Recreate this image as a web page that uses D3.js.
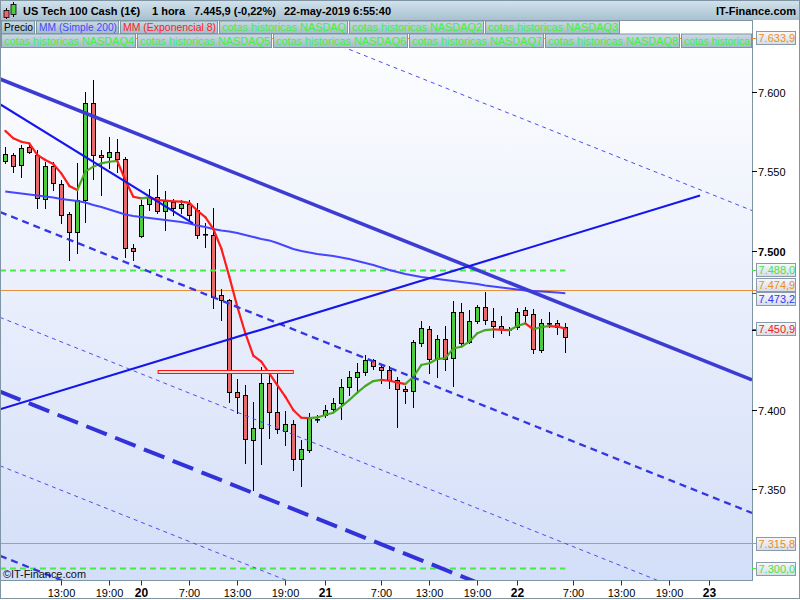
<!DOCTYPE html>
<html><head><meta charset="utf-8">
<script src="https://cdn.jsdelivr.net/npm/d3@7/dist/d3.min.js"></script>
<style>
html,body{margin:0;padding:0;background:#fff;}
svg{display:block;font-family:"Liberation Sans",Arial,sans-serif;}
</style></head><body>
<svg id="chart" width="800" height="600"></svg>
<script>
// ---------- DATA ----------
const opens=[7556.2,7560.0,7553.7,7565.0,7560.0,7532.5,7553.1,7541.7,7523.0,7511.9,
7531.7,7592.7,7560.0,7558.7,7562.1,7557.5,7501.4,7509.4,7529.1,7533.9,
7524.9,7530.8,7526.6,7529.1,7525.6,7510.3,7509.8,7472.1,7468.9,7410.8,
7409.1,7380.8,7388.2,7416.5,7398.2,7386.7,7390.7,7368.7,7374.5,7393.8,
7396.5,7400.1,7403.9,7414.0,7420.3,7423.4,7431.0,7426.6,7424.9,7418.6,
7412.9,7411.6,7441.7,7450.5,7432.0,7444.2,7432.2,7461.2,7442.3,7455.5,
7464.3,7455.5,7452.4,7450.5,7452.1,7462.4,7459.9,7437.4,7454.3,7454.2,
7452.1];
const highs=[7565.4,7561.6,7566.5,7567.9,7563.3,7555.9,7555.9,7544.4,7524.5,7554.9,
7599.6,7607.4,7563.3,7571.7,7570.0,7559.1,7504.2,7531.8,7538.6,7547.6,
7537.7,7532.5,7531.8,7531.8,7529.8,7517.2,7526.6,7475.8,7469.5,7419.0,
7415.4,7404.5,7426.6,7423.2,7424.2,7399.2,7393.4,7380.8,7397.6,7396.5,
7402.8,7407.0,7419.0,7424.4,7429.5,7434.3,7431.6,7428.0,7427.4,7420.3,
7414.8,7443.7,7455.7,7452.5,7446.9,7452.5,7468.3,7466.8,7462.6,7465.8,
7474.1,7463.7,7458.8,7452.1,7463.7,7464.3,7463.1,7456.8,7461.2,7456.3,
7454.2];
const lows=[7554.9,7549.7,7546.1,7561.2,7526.6,7526.6,7538.1,7517.2,7494.1,7498.3,
7518.2,7544.9,7535.0,7551.8,7549.5,7496.2,7494.1,7508.7,7525.6,7523.5,
7513.0,7522.4,7523.9,7519.3,7507.7,7502.0,7464.1,7456.3,7404.9,7397.6,
7366.5,7349.3,7365.5,7381.9,7385.0,7377.7,7361.9,7351.9,7373.4,7392.3,
7395.5,7399.1,7393.8,7409.1,7410.6,7421.7,7425.3,7416.5,7413.3,7388.8,
7403.9,7401.4,7440.2,7423.2,7420.6,7424.9,7415.0,7439.5,7441.7,7454.2,
7453.8,7445.4,7448.0,7446.9,7450.5,7454.2,7435.4,7436.4,7452.1,7447.5,
7436.4];
const closes=[7560.8,7553.1,7564.4,7561.9,7532.9,7553.1,7542.4,7522.4,7511.9,7531.7,
7592.7,7560.0,7558.7,7562.1,7557.5,7501.4,7499.6,7529.0,7533.9,7524.6,
7531.2,7526.6,7529.1,7522.4,7509.8,7510.3,7471.0,7468.9,7410.8,7408.1,
7381.2,7388.2,7416.5,7398.2,7387.5,7390.7,7368.7,7375.0,7394.5,7393.8,
7399.7,7403.9,7414.0,7420.3,7423.4,7431.0,7427.4,7424.9,7418.6,7412.7,
7411.6,7442.3,7451.1,7431.6,7444.2,7432.0,7461.2,7441.7,7455.5,7464.3,
7456.3,7452.5,7450.9,7450.5,7461.5,7459.3,7437.9,7454.2,7454.3,7452.1,
7445.9];
const ema8=[7575.3,7570.7,7568.5,7567.5,7560.2,7557.0,7554.5,7548.6,7540.7,7538.1,
7549.7,7552.8,7554.9,7555.9,7556.4,7544.4,7533.9,7532.9,7533.5,7531.8,
7531.4,7531.0,7530.8,7530.0,7525.2,7521.1,7513.6,7501.4,7483.6,7464.7,
7448.0,7433.9,7430.1,7422.8,7415.4,7408.1,7399.7,7394.8,7394.6,7395.0,
7396.5,7398.0,7401.8,7406.0,7410.6,7414.8,7417.9,7418.6,7418.1,7417.1,
7416.0,7420.6,7428.0,7429.1,7431.8,7432.2,7438.5,7439.5,7442.7,7448.0,
7450.0,7450.4,7450.2,7449.9,7452.5,7454.2,7450.5,7451.9,7452.5,7452.2,
7450.9];
const sma200=[7537.2,7536.6,7535.9,7535.3,7534.7,7534.0,7533.4,7532.5,7531.8,7531.2,
7530.3,7528.7,7527.4,7525.9,7524.3,7522.7,7521.8,7521.1,7520.5,7519.9,
7519.3,7518.6,7518.0,7517.1,7515.8,7514.9,7513.6,7512.6,7512.0,7511.1,
7509.8,7508.6,7507.3,7506.4,7504.8,7502.9,7501.0,7499.7,7498.8,7497.9,
7497.2,7496.6,7495.7,7494.7,7493.5,7492.2,7490.9,7489.4,7487.8,7486.5,
7485.3,7484.3,7483.4,7482.8,7482.1,7481.5,7480.9,7480.2,7479.6,7479.0,
7478.0,7477.4,7476.8,7476.2,7475.5,7474.9,7474.6,7474.3,7473.9,7473.6,
7473.2];

const timeTickIndex=[7,13,17,23,29,35,40,47,53,59,64,71,77,83,88];
const timeTickLabels=["13:00","19:00","20","7:00","13:00","19:00","21","7:00","13:00","19:00","22","7:00","13:00","19:00","23"];
const priceTicks=[7350,7400,7450,7500,7550,7600];
const priceTickLabels=["7.350","7.400","7.450","7.500","7.550","7.600"];

const levelValues=[7633.9,7488.0,7474.9,7473.2,7450.9,7315.8,7300.0];
const levelLabels=["7.633,9","7.488,0","7.474,9","7.473,2","7.450,9","7.315,8","7.300,0"];
const levelKinds=["hist","cota","hist","sma","ema","hist","cota"];

const trendI0=[-0.6625,-0.6625,-0.6625,-0.6625,-0.6625,-0.6625,-0.6625,-0.6625,-0.6625];
const trendP0=[7608.0,7524.3,7714.5,7458.0,7411.2,7364.6,7308.0,7592.1,7400.1];
const trendI1=[93.3375,93.3375,93.3375,93.3375,93.3375,93.3375,93.3375,23.46,86.84];
const trendP1=[7418.6,7334.9,7525.2,7268.7,7221.9,7175.3,7118.7,7517.1,7534.6];
const trendKinds=["thick","dash","dot","dot","longdash","dot","dash","solid","solid"];

const zoneIdx=[19.1,36.0];
const zonePrice=[7423.0,7424.6];

const legendRow1=["Precio","MM (Simple 200)","MM (Exponencial 8)","cotas historicas NASDAQ","cotas historicas NASDAQ2","cotas historicas NASDAQ3"];
const legendRow2=["cotas historicas NASDAQ4","cotas historicas NASDAQ5","cotas historicas NASDAQ6","cotas historicas NASDAQ7","cotas historicas NASDAQ8","cotas historica"];

// ---------- LAYOUT ----------
const PL=0, PR=752, PT=20, PB=580.5;
const svg=d3.select("#chart");
const defs=svg.append("defs");
function vgrad(id,c0,c1){
  const g=defs.append("linearGradient").attr("id",id).attr("x1",0).attr("y1",0).attr("x2",0).attr("y2",1);
  g.append("stop").attr("offset","0%").attr("stop-color",c0);
  g.append("stop").attr("offset","100%").attr("stop-color",c1);
}
vgrad("gPlot","#ffffff","#d3def8");
vgrad("gHead","#d3e3ec","#a8c1d0");
vgrad("gLeg","#cadbe4","#a2bbca");
vgrad("gBox","#f7f9fb","#d5dde6");
defs.append("clipPath").attr("id","clipPlot").append("rect")
  .attr("x",PL).attr("y",PT).attr("width",PR-PL).attr("height",PB-PT);

const x=d3.scaleLinear().domain([-0.6625,93.3375]).range([PL,PR]);
const y=d3.scaleLinear().domain([7292.4,7645.1]).range([PB,PT]);

svg.append("rect").attr("width",800).attr("height",600).attr("fill","#fff");
svg.append("rect").attr("x",PL).attr("y",PT).attr("width",PR-PL).attr("height",PB-PT).attr("fill","url(#gPlot)");

const plot=svg.append("g").attr("clip-path","url(#clipPlot)");

const levelColor={hist:"#ee8a2e",cota:"#44e844",sma:"#3c3cff",ema:"#ff2020"};
const lastIdx=opens.length-1;
levelValues.forEach((v,k)=>{
  if(levelKinds[k]==="hist"){
    const yy=Math.round(y(v))+0.5;
    plot.append("line").attr("x1",PL).attr("x2",PR).attr("y1",yy).attr("y2",yy)
      .attr("stroke","#e8903a").attr("stroke-width",1);
  }
});

// candles
const idx=d3.range(opens.length);
const cg=plot.append("g");
idx.forEach(i=>{
  const px=Math.round(x(i));
  const o=opens[i],c=closes[i];
  cg.append("line").attr("x1",px+0.5).attr("x2",px+0.5)
    .attr("y1",Math.round(y(highs[i]))).attr("y2",Math.round(y(lows[i]))+1)
    .attr("stroke","#000").attr("stroke-width",1);
  if(o===c){
    const yy=Math.round(y(o));
    cg.append("rect").attr("x",px-2).attr("y",yy).attr("width",5).attr("height",1.6).attr("fill","#000");
  } else {
    const top=Math.round(y(Math.max(o,c))), bot=Math.round(y(Math.min(o,c)));
    const h=Math.max(bot-top,2);
    cg.append("rect").attr("x",px-2).attr("y",top).attr("width",5).attr("height",h+1).attr("fill","#000");
    cg.append("rect").attr("x",px-1).attr("y",top+1).attr("width",3).attr("height",Math.max(h-1,0.5))
      .attr("fill",c>o?"#4ccc3e":"#e86a6a");
  }
});

// green dashed cotas
levelValues.forEach((v,k)=>{
  if(levelKinds[k]==="cota"){
    const yy=Math.round(y(v))+0.5;
    plot.append("line").attr("x1",PL).attr("x2",x(lastIdx)).attr("y1",yy).attr("y2",yy)
      .attr("stroke","#44ee44").attr("stroke-width",2).attr("stroke-dasharray","6,4");
  }
});

// SMA 200
plot.append("path").datum(idx).attr("fill","none").attr("stroke","#4646ff").attr("stroke-width",2)
  .attr("d",d3.line().x(i=>x(i)).y(i=>y(sma200[i])));

// EMA 8 coloured by slope
for(let i=1;i<ema8.length;i++){
  const up=ema8[i]>ema8[i-1];
  plot.append("line").attr("x1",x(i-1)).attr("y1",y(ema8[i-1])).attr("x2",x(i)).attr("y2",y(ema8[i]))
    .attr("stroke",up?"#48a820":"#ff1c1c").attr("stroke-width",2.2).attr("stroke-linecap","round");
}

// trend lines
const tStyle={
  thick:{c:"#3c3cd4",w:3.6,d:null},
  dash:{c:"#3535e2",w:2.3,d:"7,5"},
  dot:{c:"#4c4cf0",w:1,d:"4,4"},
  longdash:{c:"#3232d8",w:4,d:"22,9"},
  solid:{c:"#1616ec",w:2.1,d:null}
};
trendKinds.forEach((k,j)=>{
  const s=tStyle[k];
  const ln=plot.append("line").attr("x1",x(trendI0[j])).attr("y1",y(trendP0[j]))
    .attr("x2",x(trendI1[j])).attr("y2",y(trendP1[j]))
    .attr("stroke",s.c).attr("stroke-width",s.w);
  if(s.d) ln.attr("stroke-dasharray",s.d);
});

// red zone
plot.append("rect").attr("x",x(zoneIdx[0])).attr("y",Math.round(y(zonePrice[1]))+0.5)
  .attr("width",x(zoneIdx[1])-x(zoneIdx[0])).attr("height",Math.round(y(zonePrice[0]))-Math.round(y(zonePrice[1])))
  .attr("fill","#ffdede").attr("stroke","#ff1010").attr("stroke-width",1);

// ---------- HEADER ----------
svg.append("rect").attr("x",0).attr("y",0).attr("width",800).attr("height",20).attr("fill","url(#gHead)");
svg.append("line").attr("x1",0).attr("x2",800).attr("y1",20.5).attr("y2",20.5).attr("stroke","#7f95a4");
svg.append("line").attr("x1",6.5).attr("x2",6.5).attr("y1",8).attr("y2",19).attr("stroke","#000");
svg.append("rect").attr("x",4).attr("y",10.5).attr("width",5).attr("height",7).attr("fill","#e86a6a").attr("stroke","#000").attr("stroke-width",0.8);
svg.append("line").attr("x1",13.5).attr("x2",13.5).attr("y1",2).attr("y2",17).attr("stroke","#000");
svg.append("rect").attr("x",11).attr("y",4.5).attr("width",5).attr("height",10).attr("fill","#4ccc3e").attr("stroke","#000").attr("stroke-width",0.8);
const head=svg.append("g").attr("font-size",11).attr("font-weight","bold").attr("fill","#000");
head.append("text").attr("x",23).attr("y",15).text("US Tech 100 Cash (1€)");
head.append("text").attr("x",152).attr("y",15).text("1 hora");
head.append("text").attr("x",194).attr("y",15).text("7.445,9 (-0,22%)");
head.append("text").attr("x",284).attr("y",15).text("22-may-2019 6:55:40");
head.append("text").attr("x",796).attr("y",15).attr("text-anchor","end").text("IT-Finance.com");

// ---------- LEGEND ----------
const row1X=[1,36,120,219,349,485,621];
const row2X=[1,137,273,409,545,681,753];
const legColors=["#000","#4646ff","#ff2020","#44ee44","#44ee44","#44ee44"];
function legendRow(texts,xs,y0,h,colors){
  const g=svg.append("g");
  texts.forEach((t,k)=>{
    const x0=xs[k], x1=Math.min(xs[k+1]-1,PR);
    g.append("rect").attr("x",x0+0.5).attr("y",y0+0.5).attr("width",x1-x0-1).attr("height",h)
      .attr("fill","url(#gLeg)").attr("stroke","#7f95a4");
    const full=x1-x0;
    const tx=g.append("text").attr("x",x0+3).attr("y",y0+h-2.5).attr("font-size",11).attr("fill",colors[k]).text(t);
    const tw=tx.node().getComputedTextLength();
    if(tw>full-5) tx.attr("textLength",full-5).attr("lengthAdjust","spacingAndGlyphs");
  });
  return g;
}
legendRow(legendRow1,row1X,20.5,12.5,legColors);
legendRow(legendRow2,row2X,33.5,13.5,["#44ee44","#44ee44","#44ee44","#44ee44","#44ee44","#44ee44"]);

// ---------- AXES ----------
svg.append("rect").attr("x",PR).attr("y",PT).attr("width",800-PR).attr("height",600-PT).attr("fill","#fff");
svg.append("rect").attr("x",0).attr("y",PB).attr("width",800).attr("height",600-PB).attr("fill","#fff");
svg.append("line").attr("x1",PR+0.5).attr("x2",PR+0.5).attr("y1",PT).attr("y2",PB+0.5).attr("stroke","#7f95a4");
svg.append("line").attr("x1",0).attr("x2",PR+0.5).attr("y1",PB).attr("y2",PB).attr("stroke","#7f95a4");

svg.append("text").attr("x",3).attr("y",578).attr("font-size",11).attr("fill","#111")
  .attr("textLength",83).attr("lengthAdjust","spacingAndGlyphs").text("©IT-Finance.com");

// level label positions with overlap avoidance
const ys=levelValues.map(v=>y(v));
const order=d3.range(ys.length).sort((a,b)=>ys[a]-ys[b]);
const pos=order.map(k=>ys[k]);
for(let it=0;it<60;it++){
  for(let j=1;j<pos.length;j++){
    const d=pos[j]-pos[j-1];
    if(d<14){const s=(14-d)/2;pos[j-1]-=s;pos[j]+=s;}
  }
}

// right axis ticks (labels hidden where a value box covers them)
const ya=svg.append("g");
priceTicks.forEach((p,k)=>{
  const yy=Math.round(y(p))+0.5;
  ya.append("line").attr("x1",PR).attr("x2",PR+5).attr("y1",yy).attr("y2",yy).attr("stroke","#000");
  const covered=pos.some(c=>Math.abs(c-yy)<12);
  if(!covered){
    ya.append("text").attr("x",PR+6).attr("y",yy+4).attr("font-size",11)
      .attr("font-weight",priceTickLabels[k]==="7.500"?"bold":"normal").text(priceTickLabels[k]);
  }
});

const textColor={hist:"#f08a24",cota:"#4ae04a",sma:"#3535ff",ema:"#f02020"};
order.forEach((k,j)=>{
  const cy=pos[j];
  const kind=levelKinds[k];
  const yy=Math.round(ys[k])+0.5;
  ya.append("line").attr("x1",PR).attr("x2",PR+5).attr("y1",yy).attr("y2",yy).attr("stroke",levelColor[kind]);
  ya.append("rect").attr("x",756.5).attr("y",Math.round(cy-6.5)+0.5).attr("width",39).attr("height",13)
    .attr("fill","url(#gBox)").attr("stroke","#8a9aab");
  ya.append("text").attr("x",758.5).attr("y",Math.round(cy-6.5)+11).attr("font-size",11)
    .attr("fill",textColor[kind]).text(levelLabels[k]);
});

// bottom axis
const xa=svg.append("g");
timeTickIndex.forEach((ti,k)=>{
  const xx=Math.round(x(ti))+0.5;
  xa.append("line").attr("x1",xx).attr("x2",xx).attr("y1",PB).attr("y2",PB+5).attr("stroke","#333");
  const day=!timeTickLabels[k].includes(":");
  xa.append("text").attr("x",xx).attr("y",597).attr("text-anchor","middle")
    .attr("font-size",day?12:11).attr("font-weight",day?"bold":"normal").text(timeTickLabels[k]);
});

svg.append("rect").attr("x",0.5).attr("y",0.5).attr("width",799).attr("height",598).attr("fill","none").attr("stroke","#7f95a4");
</script>
</body></html>
